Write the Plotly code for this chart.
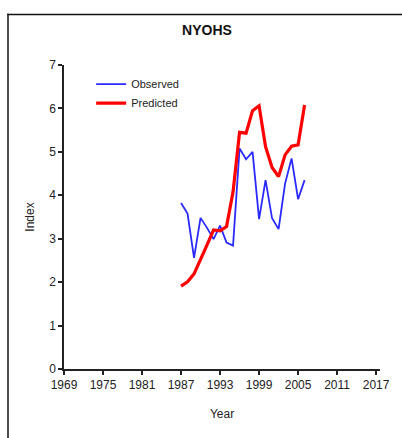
import plotly.graph_objects as go

# Annual index values for NYOHS
years = list(range(1987, 2007))
observed = [3.82, 3.58, 2.56, 3.48, 3.25, 2.99, 3.30, 2.91, 2.84, 5.08,
            4.83, 5.00, 3.45, 4.35, 3.47, 3.22, 4.27, 4.85, 3.91, 4.35]
predicted = [1.91, 2.01, 2.19, 2.51, 2.86, 3.20, 3.18, 3.28, 4.08, 5.45,
             5.43, 5.95, 6.06, 5.12, 4.64, 4.43, 4.93, 5.13, 5.16, 6.08]

x_ticks = [1969, 1975, 1981, 1987, 1993, 1999, 2005, 2011, 2017]
y_ticks = [0, 1, 2, 3, 4, 5, 6, 7]

font_family = "Liberation Sans, Arial, sans-serif"

fig = go.Figure()
fig.add_trace(go.Scatter(x=years, y=observed, mode="lines", name="Observed",
                         line=dict(color="#2a2aff", width=1.8)))
fig.add_trace(go.Scatter(x=years, y=predicted, mode="lines", name="Predicted",
                         line=dict(color="#ff0000", width=3.2)))

axis_common = dict(showgrid=False, zeroline=False, showline=True,
                   linecolor="#222222", linewidth=1.5,
                   ticks="outside", ticklen=4, tickwidth=1.5, tickcolor="#222222",
                   tickfont=dict(family=font_family, size=12, color="#222222"))

fig.update_layout(
    width=402, height=438,
    margin=dict(l=64, r=22, t=65, b=69),
    paper_bgcolor="white", plot_bgcolor="white",
    title=dict(text="<b>NYOHS</b>", x=207 / 402, xanchor="center",
               y=1 - 30 / 438, yanchor="middle",
               font=dict(family=font_family, size=14, color="#111111")),
    xaxis=dict(range=[1969, 2017.6], tickvals=x_ticks, **axis_common,
               title=dict(text="Year", standoff=18,
                          font=dict(family=font_family, size=12, color="#222222"))),
    yaxis=dict(range=[0, 7], tickvals=y_ticks, **axis_common,
               title=dict(text="Index", standoff=12,
                          font=dict(family=font_family, size=12, color="#222222"))),
    legend=dict(x=0.086, y=0.985, xanchor="left", yanchor="top",
                bgcolor="rgba(0,0,0,0)", borderwidth=0,
                font=dict(family=font_family, size=11, color="#222222"),
                tracegroupgap=0),
    showlegend=True,
)

# Frame: thin filled bars along the left and top edges
px_x = lambda p: (p - 64) / 316
px_y = lambda p: (369 - p) / 304
fig.add_shape(type="rect", xref="paper", yref="paper",
              x0=px_x(7.25), x1=px_x(8.75), y0=px_y(438), y1=px_y(13.75),
              line=dict(width=0), fillcolor="#111111", layer="below")
fig.add_shape(type="rect", xref="paper", yref="paper",
              x0=px_x(7.25), x1=px_x(402), y0=px_y(15.25), y1=px_y(13.75),
              line=dict(width=0), fillcolor="#111111", layer="below")

fig.write_html("out.html")
